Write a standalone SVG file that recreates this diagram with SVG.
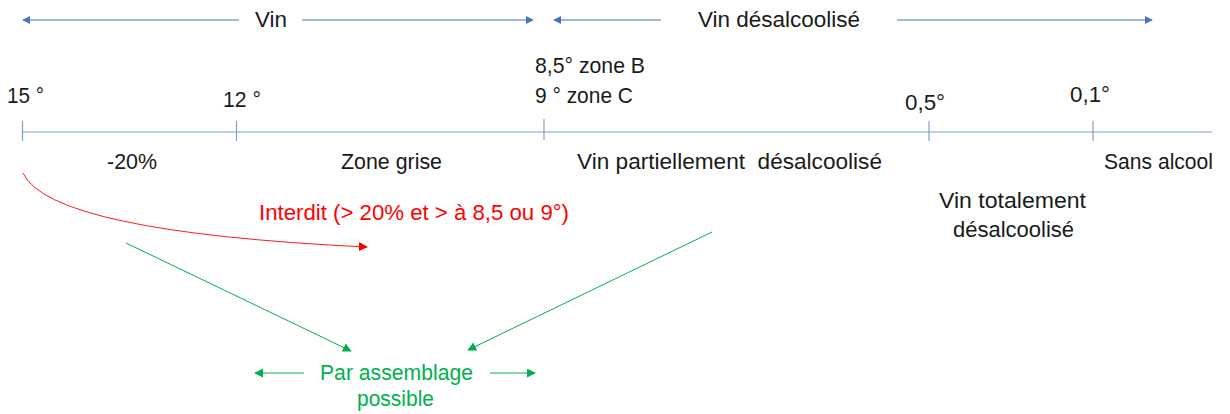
<svg xmlns="http://www.w3.org/2000/svg" width="1230" height="414" viewBox="0 0 1230 414">
<style>
text{font-family:"Liberation Sans",Arial,sans-serif;font-size:22.5px;fill:#1a1a1a}
.red{fill:#ff0000}
.green{fill:#00b050}
.blue{stroke:#4472c4;stroke-width:1.2;fill:none}
.axis{stroke:#7f9fd6;stroke-width:1.2;fill:none}
.rl{stroke:#ff1a1a;stroke-width:1;fill:none}
.gl{stroke:#00b050;stroke-width:1;fill:none}
</style>
<defs>
<marker id="ab" viewBox="0 0 10 10" refX="9" refY="5" markerWidth="8" markerHeight="8" markerUnits="userSpaceOnUse" orient="auto-start-reverse"><path d="M0,0 L10,5 L0,10 z" fill="#4472c4"/></marker>
<marker id="ar" viewBox="0 0 10 10" refX="9" refY="5" markerWidth="9" markerHeight="9" markerUnits="userSpaceOnUse" orient="auto"><path d="M0,0 L10,5 L0,10 z" fill="#ff0000"/></marker>
<marker id="ag" viewBox="0 0 10 10" refX="9" refY="5" markerWidth="9" markerHeight="9" markerUnits="userSpaceOnUse" orient="auto-start-reverse"><path d="M0,0 L10,5 L0,10 z" fill="#00b050"/></marker>
</defs>
<rect width="1230" height="414" fill="#ffffff"/>
<g id="connectors">
<line class="blue" x1="239" y1="20" x2="23" y2="20" marker-end="url(#ab)"/>
<line class="blue" x1="302" y1="20" x2="533" y2="20" marker-end="url(#ab)"/>
<line class="blue" x1="661" y1="20" x2="554" y2="20" marker-end="url(#ab)"/>
<line class="blue" x1="897" y1="20" x2="1152" y2="20" marker-end="url(#ab)"/>
<line class="axis" x1="22" y1="132" x2="1212" y2="132"/>
<line class="axis" x1="22.5" y1="121" x2="22.5" y2="141"/>
<line class="axis" x1="236.5" y1="121" x2="236.5" y2="141"/>
<line class="axis" x1="544" y1="119" x2="544" y2="140"/>
<line class="axis" x1="929" y1="121" x2="929" y2="141"/>
<line class="axis" x1="1093" y1="121" x2="1093" y2="141"/>
<path class="rl" d="M23,173 Q50,232 367,247" marker-end="url(#ar)"/>
<line class="gl" x1="126" y1="243" x2="351" y2="351" marker-end="url(#ag)"/>
<line class="gl" x1="712" y1="232" x2="468" y2="350" marker-end="url(#ag)"/>
<line class="gl" x1="304" y1="373" x2="255" y2="373" marker-end="url(#ag)"/>
<line class="gl" x1="490" y1="373" x2="535" y2="373" marker-end="url(#ag)"/>
</g>
<g id="vin"><text x="255" y="27" textLength="32" lengthAdjust="spacingAndGlyphs">Vin</text></g>
<g id="vin-desalcoolise"><text x="698" y="27" textLength="162" lengthAdjust="spacingAndGlyphs">Vin désalcoolisé</text></g>
<g id="t15"><text x="7" y="103" textLength="37" lengthAdjust="spacingAndGlyphs">15 °</text></g>
<g id="t12"><text x="223" y="107" textLength="38" lengthAdjust="spacingAndGlyphs">12 °</text></g>
<g id="t85"><text x="535" y="73" textLength="110" lengthAdjust="spacingAndGlyphs">8,5° zone B</text>
<text x="535" y="103" textLength="98" lengthAdjust="spacingAndGlyphs">9 ° zone C</text></g>
<g id="t05"><text x="905" y="110" textLength="40" lengthAdjust="spacingAndGlyphs">0,5°</text></g>
<g id="t01"><text x="1070" y="102" textLength="40" lengthAdjust="spacingAndGlyphs">0,1°</text></g>
<g id="moins20"><text x="107" y="169" textLength="50" lengthAdjust="spacingAndGlyphs">-20%</text></g>
<g id="zone-grise"><text x="341" y="169" textLength="101" lengthAdjust="spacingAndGlyphs">Zone grise</text></g>
<g id="partiel"><text x="577" y="169" textLength="305" lengthAdjust="spacingAndGlyphs" xml:space="preserve">Vin partiellement  désalcoolisé</text></g>
<g id="sans-alcool"><text x="1104" y="169" textLength="109" lengthAdjust="spacingAndGlyphs">Sans alcool</text></g>
<g id="totalement"><text x="939" y="208" textLength="147" lengthAdjust="spacingAndGlyphs">Vin totalement</text>
<text x="953" y="237" textLength="121" lengthAdjust="spacingAndGlyphs">désalcoolisé</text></g>
<g id="interdit"><text class="red" x="259" y="220" textLength="310" lengthAdjust="spacingAndGlyphs">Interdit (&gt; 20% et &gt; à 8,5 ou 9°)</text></g>
<g id="assemblage"><text class="green" x="320" y="380" textLength="153" lengthAdjust="spacingAndGlyphs">Par assemblage</text>
<text class="green" x="357" y="406" textLength="77" lengthAdjust="spacingAndGlyphs">possible</text></g>
</svg>
